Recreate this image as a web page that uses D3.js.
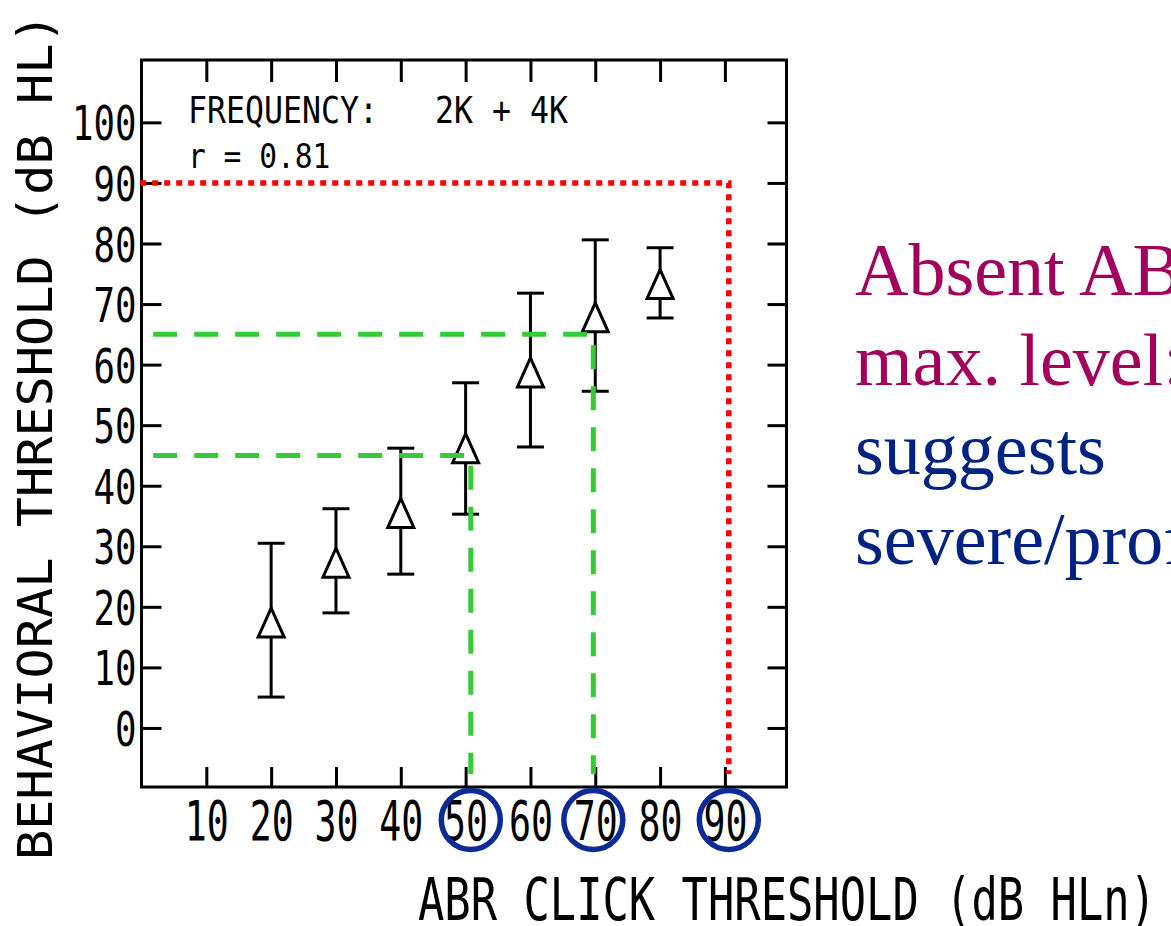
<!DOCTYPE html>
<html><head><meta charset="utf-8">
<script src="https://cdn.jsdelivr.net/npm/d3@7"></script>
<style>body{margin:0;background:#fff;overflow:hidden} svg{display:block}</style>
</head><body><svg id="c" width="1171" height="926"></svg>
<script>
// ---- data ----
const xTickValues = [10, 20, 30, 40, 50, 60, 70, 80, 90];
const yTickValues = [0, 10, 20, 30, 40, 50, 60, 70, 80, 90, 100];
const abrLevels  = [20, 30, 40, 50, 60, 70, 80];
const behavMean  = [17.4, 27.3, 35.5, 46.2, 58.7, 67.8, 73.3];
const behavUpper = [30.5, 36.2, 46.2, 57.0, 71.8, 80.6, 79.3];
const behavLower = [5.1, 19.0, 25.4, 35.3, 46.4, 55.6, 67.7];
const guideAbr   = [50.8, 69.7];   // green dashed guides (ABR level)
const guideBehav = [45, 65];       // green dashed guides (behavioral level)
const absentAbr  = 90.6;           // red dotted guide
const absentBehav = 90;
const circledAbr = [50.8, 69.7, 90.6];
const yTitle = "BEHAVIORAL THRESHOLD (dB HL)";
const xTitle = "ABR CLICK THRESHOLD (dB HLn)";
const noteFreqLabel = "FREQUENCY:";
const noteFreqValue = "2K + 4K";
const noteR = "r = 0.81";
const calloutLines  = ["Absent ABR at", "max. level:", "suggests", "severe/profound"];
const calloutColors = ["#a2005c", "#a2005c", "#002383", "#002383"];

// ---- chart ----
const svg = d3.select("#c");
const mono = "'DejaVu Sans Mono', monospace";
const ADV = 0.602, CAP = 0.729;   // DejaVu Sans Mono metrics
const x = d3.scaleLinear().domain([0, 99.5]).range([141.5, 786.5]);
const y = d3.scaleLinear().domain([-9.75, 110.3]).range([787, 60]);
const [x0, x1] = x.domain(), [y0, y1] = y.domain();

// plotter-style text: width per char and cap height in px
function plotText(parent, str, px, py, charW, capH, anchor) {
  const fs = charW / ADV;
  const sy = capH / (CAP * fs);
  return parent.append("text")
    .attr("transform", `translate(${px},${py}) scale(1,${sy})`)
    .attr("font-family", mono).attr("font-size", fs).attr("fill", "#000")
    .attr("text-anchor", anchor || "start")
    .text(str);
}

// frame
svg.append("rect")
  .attr("x", x(x0)).attr("y", y(y1))
  .attr("width", x(x1) - x(x0)).attr("height", y(y0) - y(y1))
  .attr("fill", "none").attr("stroke", "#000").attr("stroke-width", 3);

function styleAxis(g) {
  g.select(".domain").remove();
  g.selectAll(".tick line").attr("stroke", "#000").attr("stroke-width", 3);
}

// left axis
const gl = svg.append("g").attr("transform", `translate(${x(x0)},0)`)
  .call(d3.axisLeft(y).tickValues(yTickValues).tickSize(-20).tickPadding(5).tickFormat(d3.format("d")));
styleAxis(gl);
{
  const charW = 21.5, capH = 35, fs = charW / ADV, sy = capH / (CAP * fs);
  gl.selectAll(".tick text")
    .attr("font-family", mono).attr("font-size", fs).attr("fill", "#000")
    .attr("transform", `scale(1,${sy})`)
    .attr("y", 0).attr("dy", 17.5 / sy);
}

// right axis (ticks only)
const gr = svg.append("g").attr("transform", `translate(${x(x1)},0)`)
  .call(d3.axisRight(y).tickValues(yTickValues).tickSize(-19).tickFormat(""));
styleAxis(gr);

// bottom axis
const gb = svg.append("g").attr("transform", `translate(0,${y(y0)})`)
  .call(d3.axisBottom(x).tickValues(xTickValues).tickSize(-20).tickFormat(d3.format("d")));
styleAxis(gb);
{
  const charW = 22, capH = 40, fs = charW / ADV, sy = capH / (CAP * fs);
  gb.selectAll(".tick text")
    .attr("font-family", mono).attr("font-size", fs).attr("fill", "#000")
    .attr("transform", `scale(1,${sy})`)
    .attr("y", 53 / sy).attr("dy", 0);
}

// top axis (ticks only)
const gt = svg.append("g").attr("transform", `translate(0,${y(y1)})`)
  .call(d3.axisTop(x).tickValues(xTickValues).tickSize(-22).tickFormat(""));
styleAxis(gt);

// data: error bars + triangles
const pts = abrLevels.map((a, i) => ({a, m: behavMean[i], u: behavUpper[i], l: behavLower[i]}));
const gd = svg.append("g");
const capW = 13.5;
gd.selectAll(".eb").data(pts).join("line")
  .attr("x1", d => x(d.a)).attr("x2", d => x(d.a))
  .attr("y1", d => y(d.u)).attr("y2", d => y(d.l))
  .attr("stroke", "#000").attr("stroke-width", 3);
gd.selectAll(".capu").data(pts).join("line")
  .attr("x1", d => x(d.a) - capW).attr("x2", d => x(d.a) + capW)
  .attr("y1", d => y(d.u)).attr("y2", d => y(d.u))
  .attr("stroke", "#000").attr("stroke-width", 3);
gd.selectAll(".capl").data(pts).join("line")
  .attr("x1", d => x(d.a) - capW).attr("x2", d => x(d.a) + capW)
  .attr("y1", d => y(d.l)).attr("y2", d => y(d.l))
  .attr("stroke", "#000").attr("stroke-width", 3);
gd.selectAll(".tri").data(pts).join("path")
  .attr("d", d => {
    const cx = x(d.a), cy = y(d.m);
    return `M${cx},${cy - 14.5}L${cx + 13},${cy + 14.5}L${cx - 13},${cy + 14.5}Z`;
  })
  .attr("fill", "#fff").attr("stroke", "#000").attr("stroke-width", 3)
  .attr("stroke-linejoin", "miter");

// guides
const guideBottom = -7.6;
guideAbr.forEach((a, i) => {
  svg.append("path")
    .attr("d", `M${x(1.8)},${y(guideBehav[i])}H${x(a)}V${y(guideBottom)}`)
    .attr("fill", "none").attr("stroke", "#33cc33").attr("stroke-width", 5)
    .attr("stroke-dasharray", "24,17");
});
svg.append("path")
  .attr("d", `M${x(-0.2)},${y(absentBehav)}H${x(absentAbr)}V${y(guideBottom)}`)
  .attr("fill", "none").attr("stroke", "#ff0000").attr("stroke-width", 5.5)
  .attr("stroke-dasharray", "6,6");

// circled tick labels
svg.selectAll(".circ").data(circledAbr).join("circle")
  .attr("cx", d => x(d)).attr("cy", y(y0) + 33).attr("r", 29.5)
  .attr("fill", "none").attr("stroke", "#0d2b96").attr("stroke-width", 5.5);

// axis titles
{
  const t = plotText(svg, yTitle, 0, 0, 847 / yTitle.length, 35);
  t.attr("transform", `translate(52,860) rotate(-90) scale(1,${35 / (CAP * (847 / yTitle.length / ADV))})`);
}
plotText(svg, xTitle, 418, 920, 738 / xTitle.length, 43);

// notes
plotText(svg, noteFreqLabel, 188, 123, 19, 27);
plotText(svg, noteFreqValue, 435, 123, 19, 27);
plotText(svg, noteR, 188, 168, 17.8, 25);

// callout (cut by the right edge, as in the reference)
svg.selectAll(".call").data(calloutLines).join("text")
  .attr("x", 855).attr("y", (d, i) => 295 + i * 89.5)
  .attr("font-family", "'Liberation Serif', 'Times New Roman', serif")
  .attr("font-size", 74).attr("fill", (d, i) => calloutColors[i])
  .text(d => d);
</script></body></html>
